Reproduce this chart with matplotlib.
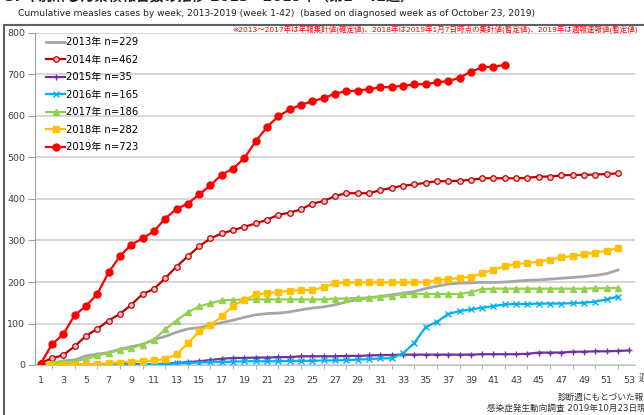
"""
Haftalik kumulatif kizamik (measles) vaka grafigi, 2013-2019.
Cikti: out.png (644x415)
"""

import matplotlib
matplotlib.use("Agg")
import matplotlib.pyplot as plt
from matplotlib.patches import Rectangle
from matplotlib.ticker import MultipleLocator


# =============== VERI ===============

YIL_2013 = [0, 4, 10, 12, 22, 26, 30, 38, 44, 50, 61, 69, 79, 87, 90, 96, 102, 108, 115, 121,
            124, 125, 128, 133, 137, 140, 145, 152, 158, 162, 165, 169, 173, 177, 184, 190, 195, 197, 198, 199,
            199, 200, 202, 204, 205, 207, 209, 211, 213, 216, 220, 229]
YIL_2014 = [5, 16, 24, 45, 70, 87, 107, 123, 145, 171, 183, 209, 237, 262, 286, 305, 317, 325, 333, 341,
            350, 362, 367, 375, 389, 395, 407, 414, 414, 414, 421, 427, 432, 435, 439, 443, 443, 444, 446, 450,
            450, 450, 450, 451, 454, 454, 457, 458, 458, 459, 460, 462]
YIL_2015 = [0, 0, 1, 1, 1, 1, 1, 2, 2, 2, 2, 3, 5, 7, 9, 12, 15, 17, 17, 18,
            18, 19, 19, 21, 21, 21, 21, 22, 22, 23, 24, 24, 25, 25, 25, 25, 25, 25, 25, 26,
            26, 26, 26, 27, 30, 30, 30, 32, 32, 33, 33, 34, 35]
YIL_2016 = [0, 0, 0, 0, 0, 0, 1, 1, 1, 1, 2, 3, 4, 5, 6, 7, 7, 8, 9, 9,
            9, 9, 10, 10, 10, 11, 11, 12, 13, 14, 16, 16, 28, 53, 91, 104, 123, 130, 134, 138,
            142, 146, 147, 147, 148, 148, 148, 149, 150, 153, 158, 165]
YIL_2017 = [0, 5, 7, 9, 14, 23, 29, 37, 41, 49, 61, 86, 107, 127, 141, 149, 156, 157, 158, 158,
            158, 158, 158, 158, 158, 158, 160, 160, 162, 162, 165, 166, 171, 171, 171, 171, 171, 171, 176, 183,
            184, 184, 184, 184, 184, 184, 184, 184, 184, 185, 185, 186]
YIL_2018 = [0, 1, 1, 1, 2, 2, 4, 6, 8, 9, 11, 14, 26, 52, 81, 96, 117, 143, 157, 170,
            173, 176, 179, 180, 181, 187, 197, 199, 199, 199, 199, 199, 199, 199, 200, 204, 207, 209, 213, 221,
            230, 238, 243, 246, 249, 254, 260, 262, 267, 271, 275, 282]
YIL_2019 = [3, 50, 74, 120, 142, 171, 223, 262, 290, 305, 322, 353, 376, 389, 411, 433, 459, 473, 499, 539,
            574, 599, 616, 627, 636, 643, 654, 660, 661, 665, 669, 670, 673, 676, 677, 681, 684, 692, 707, 717,
            719, 723]

SERILER = [
    ("2013年 n=229", YIL_2013),
    ("2014年 n=462", YIL_2014),
    ("2015年 n=35", YIL_2015),
    ("2016年 n=165", YIL_2016),
    ("2017年 n=186", YIL_2017),
    ("2018年 n=282", YIL_2018),
    ("2019年 n=723", YIL_2019),
]

X_ETIKETLER = list(range(1, 54, 2))
Y_ETIKETLER = list(range(0, 801, 100))

# =============== STIL ===============

STILLER = [
    dict(color="#A6A6A6", lw=2.0, marker=None),
    dict(color="#C00000", lw=1.6, marker="o", ms=4, mfc="#F2C6C6", mec="#C00000", mew=0.9),
    dict(color="#7030A0", lw=1.6, marker="+", ms=5, mew=1.0),
    dict(color="#00B0F0", lw=1.6, marker="x", ms=4, mew=1.0),
    dict(color="#92D050", lw=1.6, marker="^", ms=5),
    dict(color="#FFC000", lw=1.6, marker="s", ms=4.5),
    dict(color="#FF0000", lw=1.6, marker="o", ms=5),
]

plt.rcParams["font.family"] = ["DejaVu Sans", "Noto Sans CJK JP"]
YAZI_RENK = "#404040"

# =============== GRAFIK ===============

fig = plt.figure(figsize=(6.44, 4.15), dpi=100, facecolor="white")
ax = fig.add_axes([35 / 644, 1 - 365 / 415, 600 / 644, 332 / 415])

for (etiket, degerler), stil in zip(SERILER, STILLER):
    haftalar = list(range(1, len(degerler) + 1))
    ax.plot(haftalar, degerler, label=etiket, **stil)

ax.set_xlim(0.5, 53.5)
ax.set_ylim(0, 800)
ax.set_xticks(X_ETIKETLER)
ax.set_yticks(Y_ETIKETLER)
ax.xaxis.set_minor_locator(MultipleLocator(1))
ax.tick_params(axis="x", which="major", length=0, labelsize=6.8, labelcolor=YAZI_RENK, pad=8)
ax.tick_params(axis="x", which="minor", length=3, color="#A0A0A0")
ax.tick_params(axis="y", length=5, color="#A0A0A0", labelsize=6.8, labelcolor=YAZI_RENK, pad=2)

ax.grid(axis="y", color="#D0D0D0", lw=1.2)
ax.set_axisbelow(True)
for taraf in ["top", "right"]:
    ax.spines[taraf].set_visible(False)
ax.spines["left"].set_color("#A0A0A0")
ax.spines["bottom"].set_color("#C0C0C0")

ax.legend(loc="upper left", bbox_to_anchor=(0.005, 1.012), frameon=False, fontsize=7.2,
          handlelength=1.9, handletextpad=0.1, labelspacing=0.75, borderpad=0.3)

# dis cerceve
fig.add_artist(Rectangle((0.006, -0.1), 1.2, 1 - 25 / 415 + 0.1, fill=False,
                         ec="#606060", lw=1.5, transform=fig.transFigure))

# basliklar ve notlar
fig.text(0.008, 1.008, "3. 年別麻しん累積報告数の推移 2013～2019年（第1～42週）",
         fontsize=10, fontweight="bold", va="center", ha="left", color="#202020")
fig.text(18 / 644, 1 - 14 / 415, "Cumulative measles cases by week, 2013-2019 (week 1-42)  "
         "(based on diagnosed week as of October 23, 2019)",
         fontsize=6.6, va="center", ha="left", color="#202020")
fig.text(638 / 644, 1 - 30 / 415,
         "※2013～2017年は年報集計値(確定値)、2018年は2019年1月7日時点の集計値(暫定値)、2019年は週報速報値(暫定値)",
         fontsize=5.4, va="center", ha="right", color="#FF0000")
fig.text(639 / 644, 1 - 378 / 415, "週", fontsize=7, va="center", ha="left", color=YAZI_RENK)
fig.text(558 / 644, 1 - 397 / 415, "診断週にもとづいた報告数", fontsize=6.2,
         va="center", ha="left", color="#303030")
fig.text(487 / 644, 1 - 408 / 415, "感染症発生動向調査 2019年10月23日現在", fontsize=6.2,
         va="center", ha="left", color="#303030")

plt.savefig("out.png", dpi=100, facecolor="white")
plt.close()
